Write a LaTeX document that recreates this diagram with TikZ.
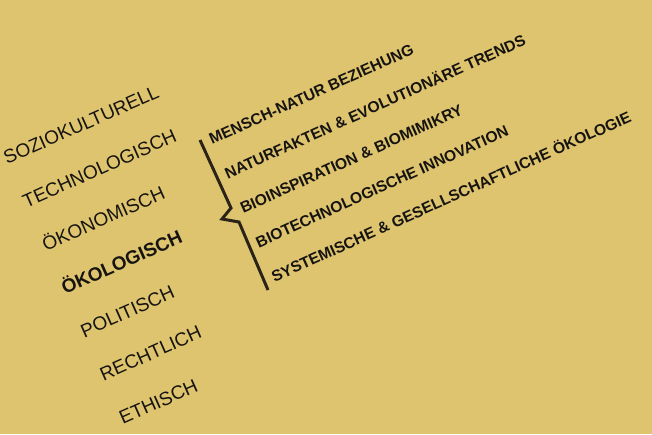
\documentclass[tikz,border=0pt]{standalone}
\usepackage{fontspec}
\setmainfont{Liberation Sans}
\definecolor{bgmustard}{HTML}{DFC46F}
\definecolor{inkdark}{HTML}{161410}
\definecolor{bracecol}{HTML}{2A2418}
\begin{document}
\begin{tikzpicture}[x=1pt,y=-1pt,
  leftword/.style={anchor=base west,rotate=24,inner sep=0pt,text=inkdark,font=\fontsize{19}{21}\selectfont},
  rightword/.style={anchor=base west,rotate=24.3,inner sep=0pt,text=inkdark,font=\bfseries\fontsize{15.6}{17}\selectfont}]
\fill[bgmustard] (0,0) rectangle (652,434);
\useasboundingbox (0,0) rectangle (652,434);
\node[leftword] (l1) at (7,165) {SOZIOKULTURELL};
\node[leftword] (l2) at (26.3,208.3) {TECHNOLOGISCH};
\node[leftword] (l3) at (45.6,251.6) {ÖKONOMISCH};
\node[leftword,font=\bfseries\fontsize{19}{21}\selectfont] (l4) at (64.9,294.9) {ÖKOLOGISCH};
\node[leftword] (l5) at (84.2,338.2) {POLITISCH};
\node[leftword] (l6) at (103.5,381.5) {RECHTLICH};
\node[leftword] (l7) at (122.8,424.8) {ETHISCH};
\node[rightword] (r1) at (212,145) {MENSCH-NATUR BEZIEHUNG};
\node[rightword] (r2) at (227.6,179.4) {NATURFAKTEN \& EVOLUTIONÄRE TRENDS};
\node[rightword] (r3) at (243.2,213.8) {BIOINSPIRATION \& BIOMIMIKRY};
\node[rightword] (r4) at (258.8,248.2) {BIOTECHNOLOGISCHE INNOVATION};
\node[rightword] (r5) at (274.4,282.6) {SYSTEMISCHE \& GESELLSCHAFTLICHE ÖKOLOGIE};
\coordinate (bt) at (200,140);
\coordinate (bm1) at (231,208);
\coordinate (btip) at (222,219);
\coordinate (bm2) at (239,222);
\coordinate (bb) at (268,290);
\draw[bracecol,line width=3pt,line join=miter] (bt) -- (bm1) -- (btip) -- (bm2) -- (bb);
\end{tikzpicture}
\end{document}
